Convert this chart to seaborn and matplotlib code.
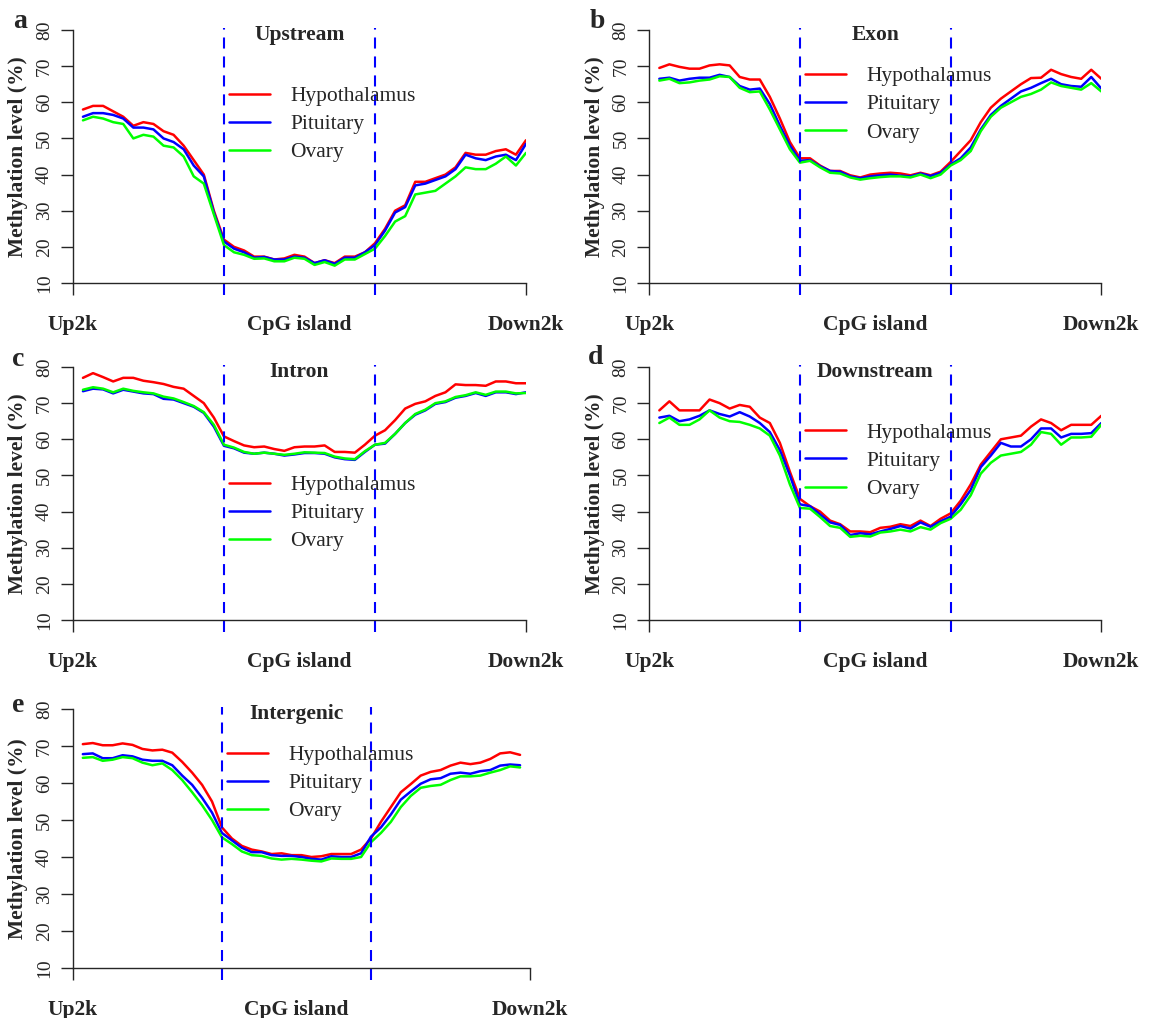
import numpy as np
import pandas as pd
import matplotlib
matplotlib.use("Agg")
import matplotlib.pyplot as plt
import seaborn as sns

# ==========================
# Data (methylation level, %)
# ==========================

pos = np.arange(1, 46)
tissues = ["Hypothalamus", "Pituitary", "Ovary"]
colors = ["#FF0000", "#0000FF", "#00FF00"]
xlabels = ["Up2k", "CpG island", "Down2k"]

a_hyp = [58, 59, 59, 57.5, 56, 53.5, 54.5, 54, 52, 51, 48, 44, 40, 30, 22, 20, 19, 17.3, 17.3, 16.5,
         16.8, 17.8, 17.3, 15.5, 16.3, 15.5, 17.3, 17.3, 18.5, 21, 25, 30, 31.5, 38, 38, 39, 40, 42,
         46, 45.5, 45.5, 46.5, 47, 45.5, 49.5]
a_pit = [56, 57, 57, 56.5, 55.5, 53, 53, 52.5, 50, 49, 47, 42.5, 39.5, 29.5, 21.5, 19.5, 18.5, 17, 17.2,
         16.5, 16.5, 17.3, 17, 15.5, 16.3, 15.3, 17, 17, 18.5, 20.5, 24.5, 29.5, 31, 37, 37.5, 38.5,
         39.5, 41.5, 45.5, 44.5, 44, 45, 45.5, 44, 48.5]
a_ova = [55, 56, 55.5, 54.5, 54, 50, 51, 50.5, 48, 47.5, 45, 39.5, 37.5, 29, 20.5, 18.5, 17.8, 16.7,
         16.8, 16, 16, 17, 16.7, 15, 15.8, 14.8, 16.5, 16.5, 18, 19.5, 23, 27, 28.5, 34.5, 35, 35.5,
         37.5, 39.5, 42, 41.5, 41.5, 43, 45, 42.5, 46]

b_hyp = [69.5, 70.5, 69.8, 69.3, 69.3, 70.2, 70.5, 70.2, 67, 66.3, 66.3, 61.5, 55.5, 49, 44.5, 44.5,
         42.5, 41, 41, 39.8, 39.2, 40, 40.3, 40.5, 40.3, 39.8, 40.5, 39.8, 40.8, 43.5, 46.5, 49.5,
         54.5, 58.5, 61, 63, 65, 66.7, 66.8, 69, 67.8, 67, 66.5, 69, 66.5]
b_pit = [66.5, 66.8, 66, 66.5, 66.8, 66.8, 67.6, 67, 64.5, 63.5, 63.8, 59.5, 53.5, 48, 43.8, 44, 42.3,
         41, 40.8, 39.5, 39, 39.5, 39.8, 40, 39.7, 39.5, 40.3, 39.6, 40.5, 42.8, 44.5, 47.5, 52.5,
         56.5, 59, 61, 63, 64, 65.3, 66.5, 65, 64.5, 64.3, 67, 63.8]
b_ova = [66, 66.5, 65.3, 65.5, 66, 66.3, 67.2, 67, 64, 62.8, 63, 58, 52.5, 47, 43.3, 43.8, 42, 40.5,
         40.3, 39.2, 38.6, 39, 39.3, 39.5, 39.5, 39.2, 40, 39, 40, 42.5, 44, 46.5, 52, 56, 58.5, 60,
         61.5, 62.3, 63.5, 65.5, 64.5, 64, 63.5, 65.3, 63]

c_hyp = [77, 78.3, 77.2, 76, 77, 77, 76.2, 75.8, 75.3, 74.5, 74, 72, 70, 66, 60.8, 59.5, 58.3, 57.8,
         58, 57.3, 56.8, 57.8, 58, 58, 58.3, 56.5, 56.5, 56.3, 58.5, 61, 62.5, 65.3, 68.5, 69.8, 70.5,
         72, 73, 75.2, 75, 75, 74.8, 76, 76, 75.5, 75.5]
c_pit = [73.3, 74, 73.8, 72.7, 73.7, 73.2, 72.7, 72.5, 71.2, 71, 70, 69, 67.3, 63.5, 58.2, 57.5, 56.3,
         56, 56.3, 56, 55.5, 55.8, 56.2, 56.2, 56, 55, 54.5, 54.3, 56.5, 58.5, 58.8, 61.5, 64.5, 66.8,
         68, 69.8, 70.3, 71.5, 72, 72.8, 72, 73, 73, 72.5, 73]
c_ova = [73.7, 74.4, 74, 73, 74, 73.4, 73, 72.7, 71.8, 71.3, 70.3, 69.2, 67.5, 64, 58.5, 57.7, 56.5,
         56, 56.3, 56, 55.7, 56, 56.4, 56.3, 56.2, 55.2, 54.7, 54.5, 56.7, 58.5, 59, 61.5, 64.5, 67,
         68.2, 70, 70.5, 71.7, 72.2, 73, 72.3, 73.2, 73.2, 72.7, 72.8]

d_hyp = [68, 70.5, 68, 68, 68, 71, 70, 68.5, 69.5, 69, 66, 64.5, 59, 51, 43.5, 41.5, 40, 37.5, 36.5,
         34.5, 34.5, 34.3, 35.5, 35.8, 36.5, 36, 37.5, 36, 38, 39.5, 43, 47.5, 53, 56.5, 60, 60.5, 61,
         63.5, 65.5, 64.5, 62.5, 64, 64, 64, 66.5]
d_pit = [66, 66.5, 65, 65.5, 66.5, 68, 67, 66.3, 67.5, 66.3, 64.5, 62, 57, 50, 42, 41.5, 39.2, 37,
         36.3, 33.5, 34, 33.7, 34.5, 35.2, 36, 35.3, 37, 35.8, 37.3, 38.6, 42, 46, 52.3, 55.5, 59, 58,
         58, 60, 63, 63, 60.5, 61.5, 61.5, 61.7, 64.5]
d_ova = [64.5, 66, 64, 64, 65.5, 68, 66, 65, 64.8, 64, 63, 61, 55.5, 47.5, 41, 40.8, 38.5, 36, 35.5,
         33, 33.3, 33.1, 34.2, 34.5, 35, 34.5, 35.7, 35, 36.8, 38, 40.5, 44.5, 50.5, 53.5, 55.5, 56,
         56.5, 58.5, 62, 61.5, 58.5, 60.5, 60.5, 60.7, 64]

e_hyp = [70.5, 70.8, 70.2, 70.2, 70.7, 70.3, 69.2, 68.8, 69, 68.2, 65.7, 62.8, 59.5, 55, 48, 45, 43,
         42, 41.5, 40.8, 41, 40.5, 40.5, 40, 40.2, 40.8, 40.8, 40.8, 42, 45, 49.5, 53.5, 57.5, 59.7,
         62, 63, 63.5, 64.7, 65.5, 65.1, 65.5, 66.5, 68, 68.3, 67.6]
e_pit = [67.8, 68, 66.7, 66.7, 67.5, 67.2, 66.3, 66, 66, 64.8, 62, 59.5, 56, 52, 46.5, 44.5, 42.5,
         41.3, 41.3, 40.5, 40.3, 40.3, 40, 39.5, 39.3, 40.2, 40, 40, 41, 45.5, 48, 51.5, 55.5, 57.7,
         59.8, 61, 61.3, 62.5, 62.8, 62.5, 63.2, 63.5, 64.7, 65, 64.8]
e_ova = [66.8, 67, 66, 66.3, 67, 66.7, 65.5, 64.8, 65.3, 63.5, 60.8, 57.5, 54, 50, 45.3, 43.5, 41.5,
         40.5, 40.3, 39.6, 39.3, 39.5, 39.3, 39, 38.8, 39.6, 39.5, 39.5, 40, 44, 46.5, 49.5, 53.5,
         56.5, 58.7, 59.2, 59.5, 60.8, 61.8, 61.8, 62, 62.8, 63.5, 64.5, 64.2]

# panel: letter, title, series, pixel box (x0, x1, y at 80, y at 10), x max, legend centre y
panels = [
    ("a", "Upstream", (a_hyp, a_pit, a_ova), (72.9, 526, 30, 283), 45, 53.9),
    ("b", "Exon", (b_hyp, b_pit, b_ova), (649.3, 1101.3, 30, 283), 45, 59.4),
    ("c", "Intron", (c_hyp, c_pit, c_ova), (72.9, 526, 367, 620), 45, 39.5),
    ("d", "Downstream", (d_hyp, d_pit, d_ova), (649.3, 1101.3, 367, 620), 45, 54.0),
    ("e", "Intergenic", (e_hyp, e_pit, e_ova), (72.9, 530, 709, 968), 46, 59.9),
]
letter_pos = {"a": (20, 22), "b": (597, 22), "c": (18.5, 360), "d": (596, 358), "e": (18.5, 705)}

# ==========================
# Plot
# ==========================

sns.set_style("ticks")
plt.rcParams["font.family"] = ["Liberation Serif", "DejaVu Serif"]

W, H = 1149, 1018
YLO, YHI = 6.7, 80.5
FS = 15.5

fig = plt.figure(figsize=(W / 100, H / 100), dpi=100)

for letter, title, series, (x0, x1, y80, y10), xmax, leg_y in panels:
    ppu = (y10 - y80) / 70
    top = y80 - (YHI - 80) * ppu
    bot = y10 + (10 - YLO) * ppu
    ax = fig.add_axes([x0 / W, 1 - bot / H, (x1 - x0) / W, (bot - top) / H])

    df = pd.DataFrame({
        "pos": np.tile(pos, 3),
        "level": np.concatenate(series),
        "tissue": np.repeat(tissues, len(pos)),
    })
    sns.lineplot(data=df, x="pos", y="level", hue="tissue", hue_order=tissues,
                 palette=colors, linewidth=1.8, estimator=None, ax=ax)

    for xv in (15, 30):
        ax.axvline(xv, color="#0000FF", lw=1.5, ls=(0, (5.3, 3.8)))

    ax.set_xlim(0, xmax)
    ax.set_ylim(YLO, YHI)
    ax.spines["top"].set_visible(False)
    ax.spines["right"].set_visible(False)
    ax.spines["left"].set_bounds(10, 80)
    ax.spines["bottom"].set_position(("data", 10))
    ax.spines["bottom"].set_bounds(0, xmax)
    for s in ("left", "bottom"):
        ax.spines[s].set_linewidth(1.0)

    ax.set_xticks([0, xmax])
    ax.set_xticklabels([])
    ax.set_yticks(range(10, 81, 10))
    ax.tick_params(length=8.3, width=1.0, direction="out", labelsize=14, pad=6)
    ax.tick_params(axis="y", labelrotation=90)
    for lbl in ax.get_yticklabels():
        lbl.set_va("center")
    ax.set_xlabel("")
    ax.set_ylabel("")

    for xv, lab in zip([0, 22.5, xmax], xlabels):
        ax.annotate(lab, xy=(xv, 10), xycoords="data", xytext=(0, -23),
                    textcoords="offset points", ha="center", va="top",
                    fontsize=FS, fontweight="bold", annotation_clip=False)

    ax.text(22.5, 78.6, title, ha="center", va="center", fontsize=FS, fontweight="bold")

    yfrac = (45 - YLO) / (YHI - YLO)
    ax.text(-54.4 / (x1 - x0), yfrac, "Methylation level (%)", transform=ax.transAxes,
            rotation=90, ha="center", va="center", fontsize=FS, fontweight="bold")

    handles, labels = ax.get_legend_handles_labels()
    leg = ax.legend(handles, labels, loc="center left", bbox_to_anchor=(15.55, leg_y),
                    bbox_transform=ax.transData, frameon=False, fontsize=FS,
                    handlelength=1.89, handletextpad=0.93, labelspacing=0.37,
                    borderpad=0, borderaxespad=0)
    for ln in leg.get_lines():
        ln.set_linewidth(1.8)

    lx, ly = letter_pos[letter]
    fig.text(lx / W, 1 - ly / H, letter, ha="center", va="center",
             fontsize=20, fontweight="bold")

fig.savefig("out.png", dpi=100)
